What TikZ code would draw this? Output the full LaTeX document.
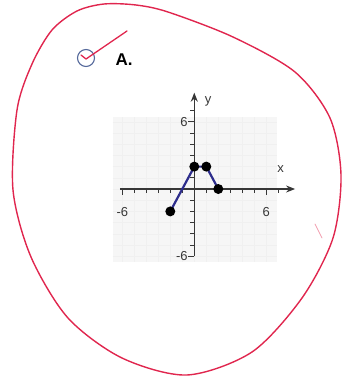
\documentclass[tikz,border=0pt]{standalone}
\usepackage{fontspec}
\setmainfont{Liberation Sans}
\usetikzlibrary{arrows.meta}
\definecolor{loopred}{RGB}{224,38,78}
\definecolor{circblue}{RGB}{85,105,155}
\definecolor{plotblue}{RGB}{45,45,140}
\definecolor{axgray}{RGB}{55,55,55}
\begin{document}
\begin{tikzpicture}[x=1pt,y=-1pt,
  loopline/.style={draw=loopred,line width=1.4pt,line cap=round,line join=round},
  axisline/.style={draw=axgray,line width=1.2pt},
  tickline/.style={draw=axgray,line width=0.9pt},
  gridline/.style={draw=black!6,line width=0.3pt},
  plotline/.style={draw=plotblue,line width=2.2pt},
  dotpt/.style={circle,fill=black,inner sep=0pt,minimum size=10pt},
  lbl/.style={inner sep=0.5pt,text=axgray,font=\fontsize{13}{13}\selectfont}]
\useasboundingbox (0,0) rectangle (343,381);
% grid background
\fill[black!3.5] (113,117) rectangle (277,262);
% big freehand loop
\draw[loopline] plot[smooth cycle,tension=0.5] coordinates {
 (104,4) (136,5) (168,12) (233,37) (295,72) (330,118) (341,175) (333,238)
 (302,298) (252,352) (187,375) (122,358) (68,318) (31,257) (13,190)
 (17,110) (32,64) (52,30) (77,11)};
\draw[draw=loopred!45,line width=0.8pt,line cap=round] (315,224) -- (322,238);
% check mark
\node[draw=circblue,circle,line width=1.1pt,minimum size=17pt,inner sep=0pt] (chk) at (86,58) {};
\coordinate (ck1) at (81,55);
\coordinate (ck2) at (86,59);
\coordinate (ck3) at (127,31);
\draw[loopline,line width=1.3pt] (ck1) -- (ck2) -- (ck3);
\node[font=\fontsize{17}{17}\selectfont\bfseries,inner sep=0pt] (labA) at (124,60) {A.};
% graph
\begin{scope}[shift={(194.3,189)},x=12pt,y=11.2pt]
  \foreach \i in {-6,...,6} \draw[gridline] (\i,-6.5) -- (\i,6.4);
  \foreach \j in {-6,...,6} \draw[gridline] (-6.8,\j) -- (6.9,\j);
  \coordinate (xl) at (-6.2,0);
  \coordinate (xr) at (8.4,0);
  \coordinate (yb) at (0,-6);
  \coordinate (yt) at (0,8.6);
  \draw[axisline,-{Stealth[length=9pt,width=7pt]}] (xl) -- (xr);
  \draw[axisline,-{Stealth[length=9pt,width=7pt]}] (yb) -- (yt);
  \foreach \i in {-5,...,7} {\ifnum\i=0\else \draw[tickline] (\i,0) -- ++(0pt,-4pt);\fi}
  \foreach \j in {-5,...,7} {\ifnum\j=0\else \draw[tickline] (0,\j) -- ++(-4pt,0pt);\fi}
  \draw[tickline] (-6,0) -- ++(0pt,-6pt);
  \draw[tickline] (6,0) -- ++(0pt,-6pt);
  \draw[tickline] (0,-6) -- ++(-6pt,0pt);
  \draw[tickline] (0,6) -- ++(-6pt,0pt);
  \node[lbl,anchor=east] (ly6) at (-0.5,6) {6};
  \node[lbl,anchor=east] (lym6) at (-0.5,-6) {-6};
  \node[lbl] (lxm6) at (-6.0,-2.05) {-6};
  \node[lbl] (lx6) at (6.0,-2.05) {6};
  \node[lbl] (lx) at (7.2,1.8) {x};
  \node[lbl] (ly) at (1.15,7.8) {y};
  \coordinate (p1) at (-2,-2);
  \coordinate (p2) at (0,2);
  \coordinate (p3) at (1,2);
  \coordinate (p4) at (2,0);
  \draw[plotline] (p1) -- (p2) -- (p3) -- (p4);
  \node[dotpt] (d1) at (p1) {};
  \node[dotpt] (d2) at (p2) {};
  \node[dotpt] (d3) at (p3) {};
  \node[dotpt] (d4) at (p4) {};
\end{scope}
\end{tikzpicture}
\end{document}
